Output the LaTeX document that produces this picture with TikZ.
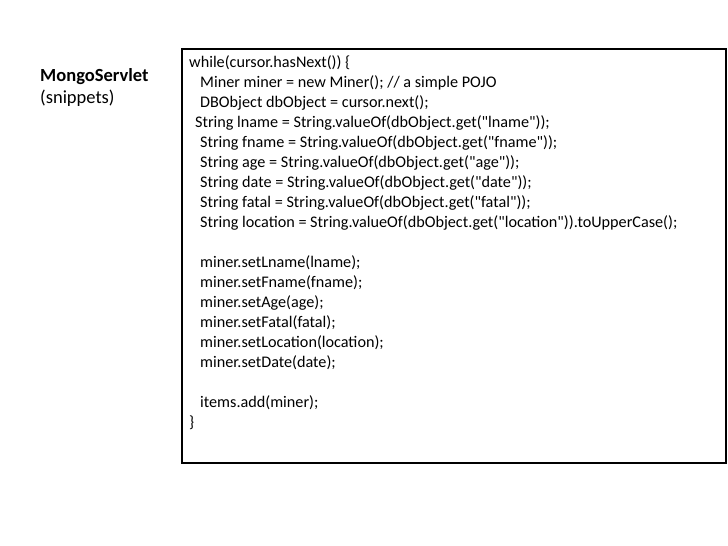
\documentclass[tikz,border=0pt]{standalone}
\usepackage{fontspec}
\setmainfont{Carlito}[Ligatures=TeXOff]
\tikzset{
  codetext/.style={anchor=north west, align=left, inner sep=0pt, font=\fontsize{16.2}{20}\selectfont},
  titletext/.style={anchor=base west, inner sep=0pt, font=\fontsize{18.5}{22}\selectfont},
}
\begin{document}
\begin{tikzpicture}[x=1pt,y=-1pt]
\useasboundingbox (0,0) rectangle (728,546);
\draw[line width=1.3pt] (182,49) rectangle (726,463);
\node[titletext] (title) at (40,81) {\textbf{MongoServlet}};
\node[titletext] (sub) at (40,103) {(snippets)};
\node[codetext] (code) at (189,55) {%
while(cursor.hasNext()) \{\\
\hspace*{11pt}Miner miner = new Miner(); // a simple POJO\\
\hspace*{11pt}DBObject dbObject = cursor.next();\\
\hspace*{6pt}String lname = String.valueOf(dbObject.get("lname"));\\
\hspace*{11pt}String fname = String.valueOf(dbObject.get("fname"));\\
\hspace*{11pt}String age = String.valueOf(dbObject.get("age"));\\
\hspace*{11pt}String date = String.valueOf(dbObject.get("date"));\\
\hspace*{11pt}String fatal = String.valueOf(dbObject.get("fatal"));\\
\hspace*{11pt}String location = String.valueOf(dbObject.get("location")).toUpperCase();\\
\mbox{}\\
\hspace*{11pt}miner.setLname(lname);\\
\hspace*{11pt}miner.setFname(fname);\\
\hspace*{11pt}miner.setAge(age);\\
\hspace*{11pt}miner.setFatal(fatal);\\
\hspace*{11pt}miner.setLocation(location);\\
\hspace*{11pt}miner.setDate(date);\\
\mbox{}\\
\hspace*{11pt}items.add(miner);\\
\}};
\end{tikzpicture}
\end{document}
